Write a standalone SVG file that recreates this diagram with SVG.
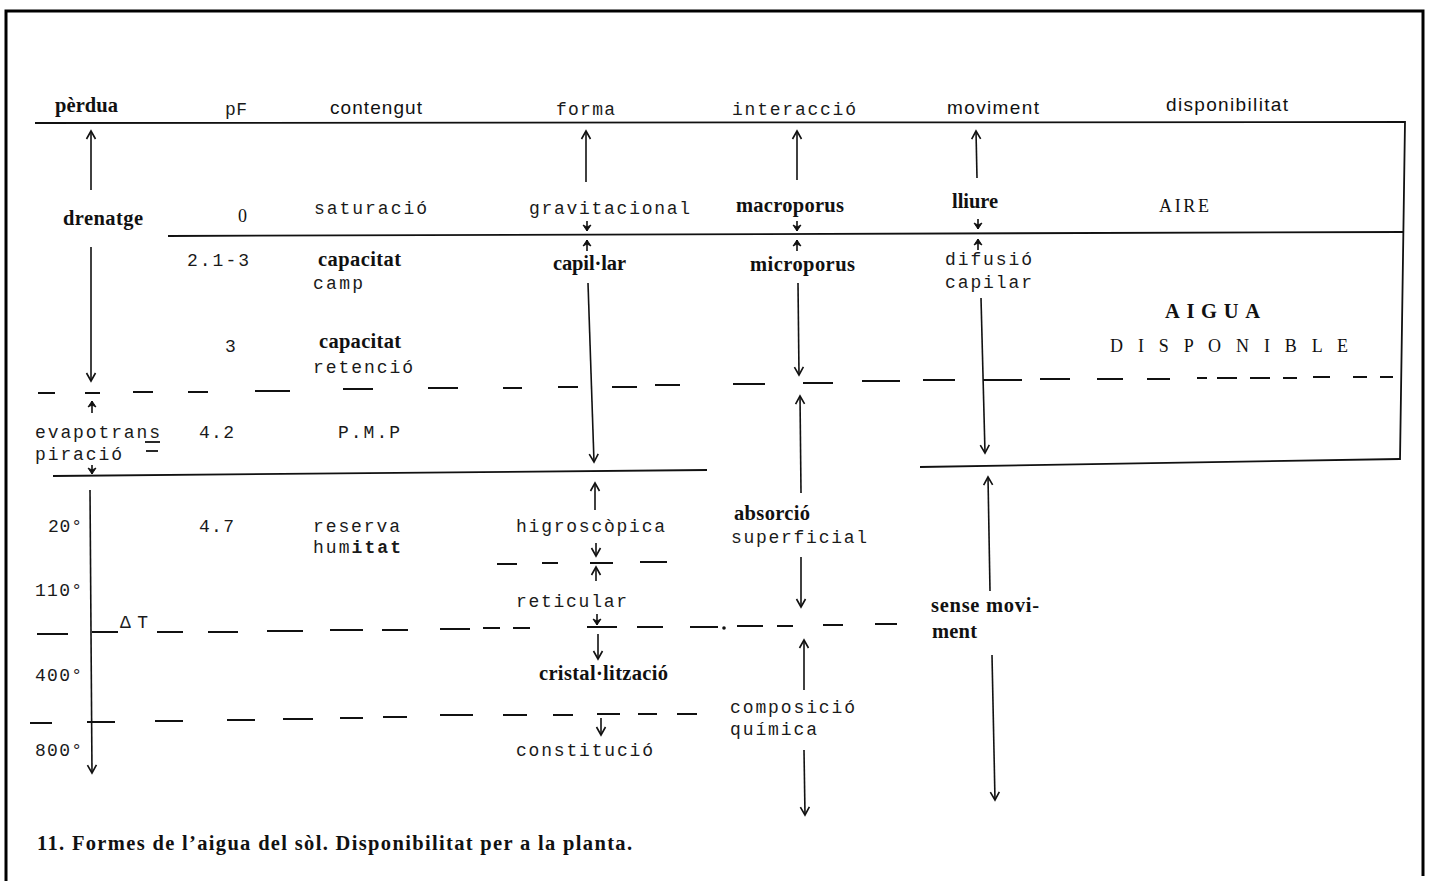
<svg xmlns="http://www.w3.org/2000/svg" width="1429" height="881" viewBox="0 0 1429 881">
  <style>
    .mono { font-family: "Liberation Mono", "DejaVu Sans Mono", monospace; font-size: 18px; fill: #1a1a1a; }
    .bold { font-family: "Liberation Serif", serif; font-weight: bold; font-size: 20.5px; fill: #111; }
    .sans { font-family: "Liberation Sans", sans-serif; font-size: 19px; fill: #111; }
    .serif { font-family: "Liberation Serif", serif; font-size: 18px; fill: #111; }
    .ln { stroke: #111; stroke-width: 1.8; fill: none; }
    .frame { stroke: #000; stroke-width: 3; fill: none; }
    .dash { stroke: #111; stroke-width: 1.8; fill: none; }
    .arr { stroke: #111; stroke-width: 1.6; fill: none; marker-end: url(#ah); }
    .sarr { stroke: #111; stroke-width: 1.6; fill: none; marker-end: url(#ahs); }
  </style>
  <defs>
    <marker id="ah" markerUnits="userSpaceOnUse" markerWidth="14" markerHeight="14" refX="0" refY="0" orient="auto" overflow="visible">
      <path d="M-8,-4.5 L0,0 L-8,4.5" fill="none" stroke="#111" stroke-width="1.6"/>
    </marker>
    <marker id="ahs" markerUnits="userSpaceOnUse" markerWidth="10" markerHeight="10" refX="0" refY="0" orient="auto" overflow="visible">
      <path d="M-6,-4 L0,0 L-6,4 L-4,0 Z" fill="#111" stroke="#111" stroke-width="1"/>
    </marker>
  </defs>

  <rect width="1429" height="881" fill="#fff"/>

  <!-- outer frame: top, left and right edges -->
  <path class="frame" d="M6,881 L6,11 L1423,11 L1423,876"/>

  <!-- table rules -->
  <g id="rules">
    <path class="ln" d="M35,123 L1405,122 L1400,460"/>
    <path class="ln" d="M168,236 L1403,232"/>
    <path class="ln" d="M53,476 L707,470"/>
    <path class="ln" d="M920,467 L1400,459"/>
    <!-- dashed limit below capacitat retenció -->
    <path class="dash" d="M38,393 H55 M85,393 H100 M133,392 H153 M188,392 H208 M255,391 H290 M343,389 H373 M428,388 H458 M503,388 H522 M558,387 H578 M612,387 H637 M655,385 H680 M733,384 H765 M803,383 H833 M862,381 H900 M923,380 H955 M983,380 H1022 M1040,379 H1070 M1097,379 H1123 M1147,379 H1170 M1197,378 H1207 M1217,378 H1237 M1250,378 H1270 M1283,378 H1297 M1313,377 H1330 M1353,377 H1367 M1380,377 H1393"/>
    <!-- short dashed limit between higroscopica and reticular -->
    <path class="dash" d="M497,564 H517 M542,563 H558 M590,563 H613 M640,562 H667"/>
    <!-- dashed temperature limit -->
    <path class="dash" d="M37,634 H68 M92,632 H118 M157,632 H183 M208,632 H238 M267,631 H303 M330,630 H363 M382,630 H408 M440,629 H470 M483,628 H500 M513,628 H530 M587,627 H617 M637,627 H663 M690,627 H718 M737,626 H763 M777,626 H793 M823,625 H843 M875,624 H897"/>
    <circle cx="724" cy="628" r="1.8" fill="#111"/>
    <!-- dashed limit above constitucio -->
    <path class="dash" d="M30,723 H52 M87,722 H115 M155,721 H183 M227,720 H255 M283,719 H313 M340,718 H363 M383,717 H407 M440,715 H473 M503,715 H527 M553,715 H573 M597,714 H620 M638,714 H657 M677,714 H697"/>
  </g>

  <!-- connectors -->
  <g id="connectors">
    <!-- pèrdua column -->
    <line class="arr" x1="91" y1="190" x2="91" y2="131"/>
    <line class="arr" x1="91" y1="247" x2="91" y2="381"/>
    <line class="sarr" x1="92" y1="413" x2="92" y2="401"/>
    <line class="sarr" x1="92" y1="465" x2="92" y2="474"/>
    <line class="arr" x1="90" y1="490" x2="92" y2="773"/>
    <!-- forma column -->
    <line class="arr" x1="586" y1="182" x2="586" y2="131"/>
    <line class="sarr" x1="587" y1="221" x2="587" y2="231"/>
    <line class="sarr" x1="587" y1="251" x2="587" y2="240"/>
    <line class="arr" x1="588" y1="283" x2="594" y2="462"/>
    <line class="arr" x1="595" y1="510" x2="595" y2="483"/>
    <line class="arr" x1="596" y1="543" x2="596" y2="556"/>
    <line class="arr" x1="596" y1="581" x2="596" y2="567"/>
    <line class="sarr" x1="597" y1="614" x2="597" y2="625"/>
    <line class="arr" x1="598" y1="634" x2="598" y2="659"/>
    <line class="arr" x1="601" y1="718" x2="601" y2="735"/>
    <!-- interacció column -->
    <line class="arr" x1="797" y1="180" x2="797" y2="131"/>
    <line class="sarr" x1="797" y1="221" x2="797" y2="231"/>
    <line class="sarr" x1="797" y1="251" x2="797" y2="240"/>
    <line class="arr" x1="798" y1="283" x2="799" y2="375"/>
    <line class="arr" x1="801" y1="493" x2="800" y2="396"/>
    <line class="arr" x1="801" y1="557" x2="801" y2="607"/>
    <line class="arr" x1="804" y1="690" x2="804" y2="640"/>
    <line class="arr" x1="804" y1="750" x2="805" y2="815"/>
    <!-- moviment column -->
    <line class="arr" x1="977" y1="178" x2="976" y2="131"/>
    <line class="sarr" x1="978" y1="219" x2="978" y2="229"/>
    <line class="sarr" x1="978" y1="250" x2="978" y2="239"/>
    <line class="arr" x1="981" y1="298" x2="985" y2="453"/>
    <line class="arr" x1="990" y1="591" x2="988" y2="477"/>
    <line class="arr" x1="992" y1="655" x2="995" y2="800"/>
  </g>

  <!-- column headings -->
  <g id="headings">
    <text class="bold" x="55" y="112" font-size="19" textLength="63">pèrdua</text>
    <text class="mono" x="225" y="115" font-size="16" textLength="22" fill="#333">pF</text>
    <text class="sans" x="330" y="114" textLength="92">contengut</text>
    <text class="mono" x="556" y="115" textLength="59">forma</text>
    <text class="mono" x="732" y="115" textLength="124">interacció</text>
    <text class="sans" x="947" y="114" textLength="92">moviment</text>
    <text class="sans" x="1166" y="111" textLength="122">disponibilitat</text>
  </g>

  <!-- pèrdua column -->
  <g id="drenatge"><text class="bold" x="63" y="225" font-size="21" textLength="80">drenatge</text></g>
  <g id="evapotranspiracio">
    <text class="mono" x="35" y="438" textLength="125">evapotrans</text>
    <line class="ln" x1="145" y1="442" x2="160" y2="442" stroke-width="1.4"/>
    <text class="mono" x="35" y="460" textLength="87">piració</text>
    <line class="ln" x1="146" y1="451" x2="158" y2="451" stroke-width="1.4"/>
  </g>
  <g id="t20"><text class="mono" x="48" y="532" textLength="34">20°</text></g>
  <g id="t110"><text class="mono" x="35" y="596" textLength="47">110°</text></g>
  <g id="deltaT"><text class="mono" x="120" y="628" textLength="28">ΔT</text></g>
  <g id="t400"><text class="mono" x="35" y="681" textLength="47">400°</text></g>
  <g id="t800"><text class="mono" x="35" y="756" textLength="47">800°</text></g>

  <!-- pF column -->
  <g id="pf0"><text class="serif" x="238" y="222" font-size="17">0</text></g>
  <g id="pf21"><text class="mono" x="187" y="266" textLength="62">2.1-3</text></g>
  <g id="pf3"><text class="mono" x="225" y="352">3</text></g>
  <g id="pf42"><text class="mono" x="199" y="438" textLength="35">4.2</text></g>
  <g id="pf47"><text class="mono" x="199" y="532" textLength="35">4.7</text></g>

  <!-- contengut column -->
  <g id="saturacio"><text class="mono" x="314" y="214" textLength="113">saturació</text></g>
  <g id="capacitat-camp">
    <text class="bold" x="318" y="266" textLength="83">capacitat</text>
    <text class="mono" x="313" y="289" textLength="50">camp</text>
  </g>
  <g id="capacitat-retencio">
    <text class="bold" x="319" y="348" textLength="82">capacitat</text>
    <text class="mono" x="313" y="373" textLength="100">retenció</text>
  </g>
  <g id="pmp"><text class="mono" x="338" y="438" textLength="62">P.M.P</text></g>
  <g id="reserva-humitat">
    <text class="mono" x="313" y="532" textLength="87">reserva</text>
    <text class="mono" x="313" y="553" textLength="88">hum<tspan font-weight="bold">itat</tspan></text>
  </g>

  <!-- forma column -->
  <g id="gravitacional"><text class="mono" x="529" y="214" textLength="161">gravitacional</text></g>
  <g id="capillar"><text class="bold" x="553" y="270" textLength="73">capil·lar</text></g>
  <g id="higroscopica"><text class="mono" x="516" y="532" textLength="149">higroscòpica</text></g>
  <g id="reticular"><text class="mono" x="516" y="607" textLength="111">reticular</text></g>
  <g id="cristallitzacio"><text class="bold" x="539" y="680" textLength="129">cristal·lització</text></g>
  <g id="constitucio"><text class="mono" x="516" y="756" textLength="137">constitució</text></g>

  <!-- interacció column -->
  <g id="macroporus"><text class="bold" x="736" y="212" textLength="108">macroporus</text></g>
  <g id="microporus"><text class="bold" x="750" y="271" textLength="105">microporus</text></g>
  <g id="absorcio-superficial">
    <text class="bold" x="734" y="520" textLength="76">absorció</text>
    <text class="mono" x="731" y="543" textLength="136">superficial</text>
  </g>
  <g id="composicio-quimica">
    <text class="mono" x="730" y="713" textLength="125">composició</text>
    <text class="mono" x="730" y="735" textLength="87">química</text>
  </g>

  <!-- moviment column -->
  <g id="lliure"><text class="bold" x="952" y="208" textLength="46">lliure</text></g>
  <g id="difusio-capilar">
    <text class="mono" x="945" y="265" textLength="87">difusió</text>
    <text class="mono" x="945" y="288" textLength="87">capilar</text>
  </g>
  <g id="sense-moviment">
    <text class="bold" x="931" y="612" textLength="108">sense movi-</text>
    <text class="bold" x="932" y="638" textLength="45">ment</text>
  </g>

  <!-- disponibilitat column -->
  <g id="aire"><text class="serif" x="1159" y="212" textLength="50">AIRE</text></g>
  <g id="aigua-disponible">
    <text class="bold" x="1165" y="318" font-size="19" textLength="95">AIGUA</text>
    <text class="serif" x="1110" y="352" textLength="238">D I S P O N I B L E</text>
  </g>

  <!-- caption -->
  <g id="caption">
    <text class="bold" x="37" y="850" font-size="21.5" textLength="595">11. Formes de l’aigua del sòl. Disponibilitat per a la planta.</text>
  </g>
</svg>
